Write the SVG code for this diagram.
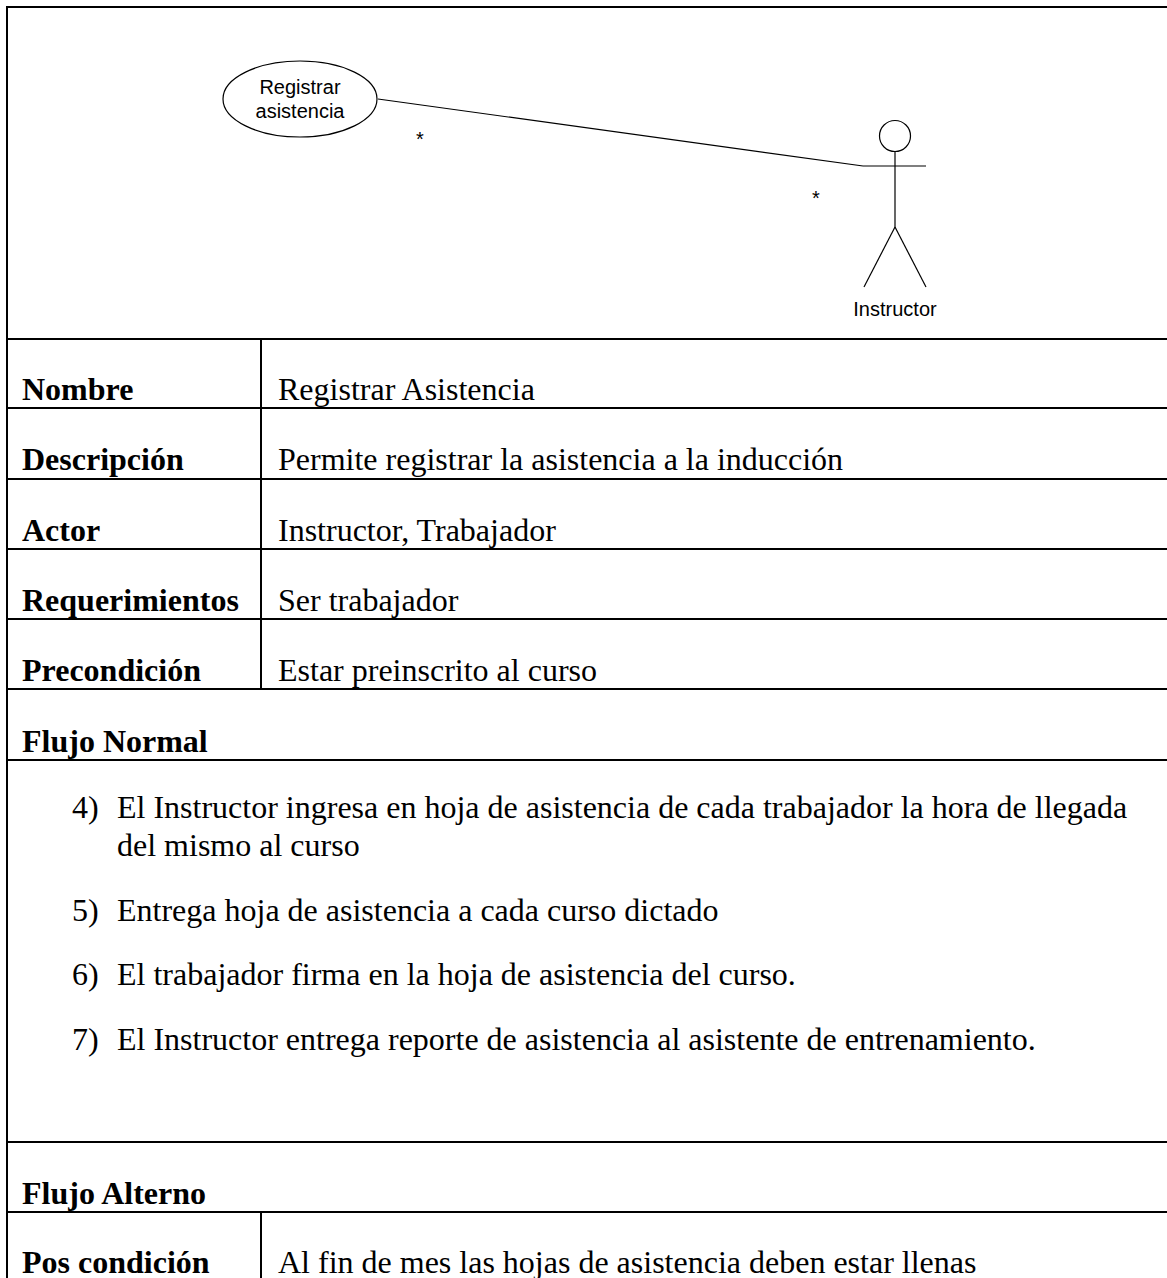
<svg xmlns="http://www.w3.org/2000/svg" width="1167" height="1278" viewBox="0 0 1167 1278">
  <style>
    .grid { stroke: #000; stroke-width: 2; fill: none; }
    .thin { stroke: #000; stroke-width: 1.2; fill: none; }
    .uml { font-family: "Liberation Sans", Arial, sans-serif; font-size: 20px; fill: #000; }
    .lbl { font-family: "Liberation Serif", "Times New Roman", serif; font-size: 32px; font-weight: bold; fill: #000; }
    .val { font-family: "Liberation Serif", "Times New Roman", serif; font-size: 32px; fill: #000; }
  </style>
  <rect width="1167" height="1278" fill="#fff"/>

  <!-- table frame and rules -->
  <g id="table">
    <line class="grid" x1="7" y1="7" x2="1167" y2="7"/>
    <line class="grid" x1="7" y1="6" x2="7" y2="1278"/>
    <line class="grid" x1="6" y1="339" x2="1167" y2="339"/>
    <line class="grid" x1="6" y1="408" x2="1167" y2="408"/>
    <line class="grid" x1="6" y1="479" x2="1167" y2="479"/>
    <line class="grid" x1="6" y1="549" x2="1167" y2="549"/>
    <line class="grid" x1="6" y1="619" x2="1167" y2="619"/>
    <line class="grid" x1="6" y1="689" x2="1167" y2="689"/>
    <line class="grid" x1="6" y1="760" x2="1167" y2="760"/>
    <line class="grid" x1="6" y1="1142" x2="1167" y2="1142"/>
    <line class="grid" x1="6" y1="1212" x2="1167" y2="1212"/>
    <line class="grid" x1="261" y1="339" x2="261" y2="689"/>
    <line class="grid" x1="261" y1="1212" x2="261" y2="1278"/>
  </g>

  <!-- association between use case and actor -->
  <g id="connectors">
    <polyline class="thin" points="378,99 863,166"/>
    <text class="uml" x="416" y="146">*</text>
    <text class="uml" x="812" y="205">*</text>
  </g>

  <g id="usecase-registrar">
    <ellipse class="thin" cx="300" cy="99" rx="77" ry="38"/>
    <text class="uml" x="300" y="94" text-anchor="middle">Registrar</text>
    <text class="uml" x="300" y="118" text-anchor="middle">asistencia</text>
  </g>

  <g id="actor-instructor">
    <circle class="thin" cx="895" cy="136" r="15.5"/>
    <line class="thin" x1="863" y1="166" x2="926" y2="166"/>
    <line class="thin" x1="895" y1="151.5" x2="895" y2="227"/>
    <line class="thin" x1="895" y1="227" x2="864" y2="287"/>
    <line class="thin" x1="895" y1="227" x2="926" y2="287"/>
    <text class="uml" x="895" y="316" text-anchor="middle">Instructor</text>
  </g>

  <!-- field names and values -->
  <g id="rows">
    <text class="lbl" x="22" y="400">Nombre</text>
    <text class="val" x="278" y="400">Registrar Asistencia</text>
    <text class="lbl" x="22" y="470">Descripción</text>
    <text class="val" x="278" y="470">Permite registrar la asistencia a la inducción</text>
    <text class="lbl" x="22" y="541">Actor</text>
    <text class="val" x="278" y="541">Instructor, Trabajador</text>
    <text class="lbl" x="22" y="611">Requerimientos</text>
    <text class="val" x="278" y="611">Ser trabajador</text>
    <text class="lbl" x="22" y="681">Precondición</text>
    <text class="val" x="278" y="681">Estar preinscrito al curso</text>
    <text class="lbl" x="22" y="752">Flujo Normal</text>
    <text class="val" x="72" y="818">4)</text>
    <text class="val" x="117" y="818">El Instructor ingresa en hoja de asistencia de cada trabajador la hora de llegada</text>
    <text class="val" x="117" y="856">del mismo al curso</text>
    <text class="val" x="72" y="921">5)</text>
    <text class="val" x="117" y="921">Entrega hoja de asistencia a cada curso dictado</text>
    <text class="val" x="72" y="985">6)</text>
    <text class="val" x="117" y="985">El trabajador firma en la hoja de asistencia del curso.</text>
    <text class="val" x="72" y="1050">7)</text>
    <text class="val" x="117" y="1050">El Instructor entrega reporte de asistencia al asistente de entrenamiento.</text>
    <text class="lbl" x="22" y="1204">Flujo Alterno</text>
    <text class="lbl" x="22" y="1273">Pos condición</text>
    <text class="val" x="278" y="1273">Al fin de mes las hojas de asistencia deben estar llenas</text>
  </g>
</svg>
